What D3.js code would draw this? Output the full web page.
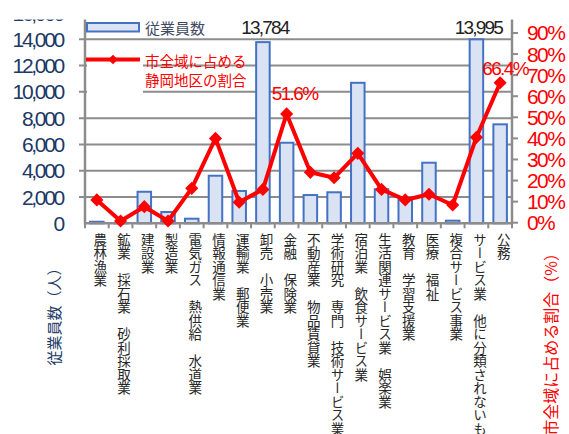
<!DOCTYPE html>
<html><head><meta charset="utf-8">
<script src="https://cdn.jsdelivr.net/npm/d3@7"></script>
<style>
html,body{margin:0;padding:0;background:#fff;}
svg{display:block;}
</style></head>
<body>
<svg id="c" width="569" height="434"></svg>
<script>
const categories = ["農林漁業","鉱業　採石業　砂利採取業","建設業","製造業","電気ガス　熱供給　水道業","情報通信業","運輸業　郵便業","卸売　小売業","金融　保険業","不動産業　物品賃貸業","学術研究　専門　技術サービス業","宿泊業　飲食サービス業","生活関連サービス業　娯楽業","教育　学習支援業","医療　福祉","複合サービス事業","サービス業　他に分類されないもの","公務"];
const employees = [120, 10, 2400, 860, 350, 3620, 2460, 13784, 6130, 2150, 2360, 10690, 2590, 1880, 4610, 200, 13995, 7530];
const shares = [10.8, 0.8, 7.6, 0.8, 16.3, 40.0, 9.7, 15.8, 51.6, 23.9, 21.3, 32.9, 15.8, 10.8, 13.5, 8.4, 40.5, 66.4];
const leftTicks = [0,2000,4000,6000,8000,10000,12000,14000,16000];
const rightTicks = [0,10,20,30,40,50,60,70,80,90,100];
const barLabels = [{i:7, text:"13,784"},{i:16, text:"13,995"}];
const lineLabels = [{i:8, text:"51.6%"},{i:17, text:"66.4%"}];

const svg = d3.select("#c");
const L = 85, R = 512, B = 223.3, T = 13;
const x = d3.scaleBand().domain(categories).range([L,R]).padding(0.43).paddingOuter(0.215);
const xb = d3.scaleBand().domain(categories).range([L,R]);
const yL = d3.scaleLinear().domain([0,16000]).range([B,T]);
const yR = d3.scaleLinear().domain([0,100]).range([222.7,11.9]);
const grey = "#8c8c8c";
const navy = "#203864";
const red = "#ff0000";
const numFont = "'Liberation Sans', Arial, sans-serif";
const cjk = "'Noto Sans CJK JP', sans-serif";

// gridlines
svg.append("g").selectAll("line").data(leftTicks.slice(1)).join("line")
  .attr("x1", L-6).attr("x2", R).attr("y1", d=>yL(d)).attr("y2", d=>yL(d))
  .attr("stroke", grey).attr("stroke-width", 2);

// left axis labels
svg.append("g").selectAll("text").data(leftTicks).join("text")
  .attr("x", 63).attr("y", d=>yL(d)).attr("text-anchor","end").attr("dominant-baseline","central")
  .attr("font-family", numFont).attr("font-size", 21).attr("letter-spacing", -2.3)
  .attr("fill", navy).text(d=>d3.format(",")(d));

// right axis ticks & labels
svg.append("g").selectAll("line").data(rightTicks).join("line")
  .attr("x1", R).attr("x2", R+6).attr("y1", d=>yR(d)).attr("y2", d=>yR(d))
  .attr("stroke", grey).attr("stroke-width", 2);
svg.append("g").selectAll("text").data(rightTicks).join("text")
  .attr("x", 527).attr("y", d=>yR(d)).attr("dominant-baseline","central")
  .attr("font-family", numFont).attr("font-size", 21).attr("letter-spacing", -1.6)
  .attr("fill", red).text(d=>d+"%");

// bars
svg.append("g").selectAll("rect").data(employees).join("rect")
  .attr("x", (d,i)=>x(categories[i])).attr("width", x.bandwidth())
  .attr("y", d=>yL(d)).attr("height", d=>B-yL(d))
  .attr("fill", "#dae3f3").attr("stroke", "#4472c4").attr("stroke-width", 2);

// axes lines
svg.append("line").attr("x1", L).attr("x2", L).attr("y1", 0).attr("y2", B+1).attr("stroke", grey).attr("stroke-width", 2.5);
svg.append("line").attr("x1", R).attr("x2", R).attr("y1", 0).attr("y2", B+1).attr("stroke", grey).attr("stroke-width", 2.5);
svg.append("line").attr("x1", L).attr("x2", R).attr("y1", B).attr("y2", B).attr("stroke", grey).attr("stroke-width", 2.5);
svg.append("g").selectAll("line").data(d3.range(categories.length+1)).join("line")
  .attr("x1", i=>L+i*xb.step()).attr("x2", i=>L+i*xb.step()).attr("y1", B).attr("y2", B+5)
  .attr("stroke", grey).attr("stroke-width", 2);

// legend
svg.append("rect").attr("x", 87).attr("y", 42).attr("width", 56).attr("height", 54).attr("fill", "#fff");
svg.append("rect").attr("x", 87).attr("y", 23).attr("width", 52).attr("height", 8.5)
  .attr("fill", "#dae3f3").attr("stroke", "#4472c4").attr("stroke-width", 2);
svg.append("text").attr("x", 145).attr("y", 27.5).attr("dominant-baseline","central")
  .attr("font-family", cjk).attr("font-size", 15).attr("fill", "#3f4a63").text("従業員数");
svg.append("line").attr("x1", 86).attr("x2", 140).attr("y1", 59.5).attr("y2", 59.5)
  .attr("stroke", red).attr("stroke-width", 4);
svg.append("path").attr("d", d3.symbol(d3.symbolDiamond2, 60)()).attr("transform","translate(113,59.5)").attr("fill", red);
svg.append("text").attr("x", 145).attr("y", 60).attr("dominant-baseline","central")
  .attr("font-family", cjk).attr("font-size", 14.5).attr("fill", red).text("市全域に占める");
svg.append("text").attr("x", 145).attr("y", 79.5).attr("dominant-baseline","central")
  .attr("font-family", cjk).attr("font-size", 14.5).attr("fill", red).text("静岡地区の割合");

// line
const cx = i => x(categories[i]) + x.bandwidth()/2;
const line = d3.line().x((d,i)=>cx(i)).y(d=>yR(d));
svg.append("path").attr("d", line(shares)).attr("fill","none").attr("stroke", red).attr("stroke-width", 4).attr("stroke-linejoin","round");
svg.append("g").selectAll("path").data(shares).join("path")
  .attr("d", d3.symbol(d3.symbolDiamond2, 110)())
  .attr("transform", (d,i)=>`translate(${cx(i)},${yR(d)})`).attr("fill", red);

// data labels
svg.append("g").selectAll("text").data(barLabels).join("text")
  .attr("x", d=>cx(d.i)+2).attr("y", 27).attr("text-anchor","middle").attr("dominant-baseline","central")
  .attr("font-family", numFont).attr("font-size", 19).attr("letter-spacing", -1.8).attr("fill", "#222").text(d=>d.text);
svg.append("g").selectAll("text").data(lineLabels).join("text")
  .attr("x", d=>cx(d.i)+(d.i===17?5:8)).attr("y", d=>yR(shares[d.i])-(d.i===17?14:20)).attr("text-anchor","middle").attr("dominant-baseline","central")
  .attr("font-family", numFont).attr("font-size", 19).attr("letter-spacing", -1.6).attr("fill", red).text(d=>d.text);

// category labels (vertical)
svg.append("g").selectAll("text").data(categories).join("text")
  .attr("x", (d,i)=>cx(i)+3.5).attr("y", 233)
  .attr("writing-mode","vertical-rl").attr("style","writing-mode:vertical-rl;text-orientation:mixed")
  .attr("font-family", cjk).attr("font-size", 13.5).attr("fill", "#262626").text(d=>d);

// axis titles
svg.append("text").attr("transform","translate(53,313) rotate(-90)").attr("text-anchor","middle").attr("dominant-baseline","central")
  .attr("font-family", cjk).attr("font-size", 15).attr("fill", navy).text("従業員数（人）");
svg.append("text").attr("transform","translate(550,245) rotate(-90)").attr("text-anchor","end").attr("dominant-baseline","central")
  .attr("font-family", cjk).attr("font-size", 16).attr("fill", red).text("市全域に占める割合（%）");

// top crop of original picture
svg.append("rect").attr("x",0).attr("y",0).attr("width",569).attr("height",19.5).attr("fill","#fff");
</script>
</body></html>
